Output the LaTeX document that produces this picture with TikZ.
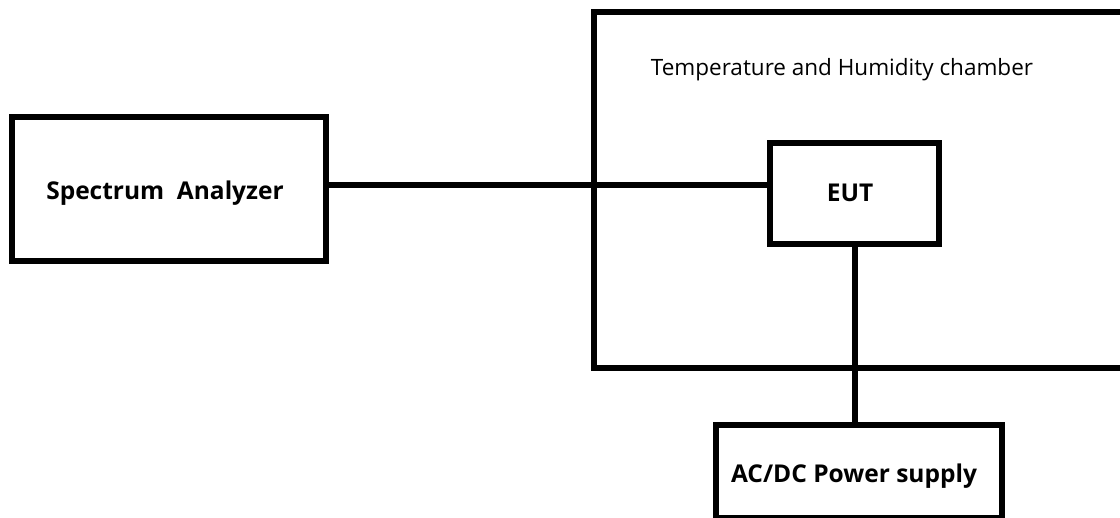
\documentclass[tikz,border=0pt]{standalone}
\usepackage{fontspec}
\newfontfamily\yh{Open Sans}
\begin{document}
\begin{tikzpicture}[x=1pt,y=-1pt,
  box/.style={draw=black,line width=6pt,inner sep=0pt,outer sep=0pt,fill=none},
  wire/.style={draw=black,line width=6pt},
  bl/.style={font=\yh\bfseries\fontsize{24.5}{28}\selectfont,inner sep=0pt,anchor=base},
  rl/.style={font=\yh\fontsize{22.5}{26}\selectfont,inner sep=0pt,anchor=base}]
\useasboundingbox (0,0) rectangle (1120,518);
\clip (0,0) rectangle (1120,518);
\node[box,minimum width=314pt,minimum height=144pt] (sa) at (169,189) {};
\node[box,minimum width=536pt,minimum height=356pt] (ch) at (862,190) {};
\node[box,minimum width=169pt,minimum height=101pt] (eut) at (854.5,193.5) {};
\node[box,minimum width=286pt,minimum height=93pt] (ps) at (859,471.5) {};
\node[bl] (tsa) at (165,200) {Spectrum\ \ Analyzer};
\node[rl] (tch) at (842,76) {Temperature and Humidity chamber};
\node[bl] (teut) at (850,202) {EUT};
\node[bl] (tps) at (854,483) {AC/DC Power supply};
\draw[wire] (sa.east |- 0,185.5) -- (eut.west |- 0,185.5);
\draw[wire] (eut.south) -- (eut.south |- ps.north);
\end{tikzpicture}
\end{document}
